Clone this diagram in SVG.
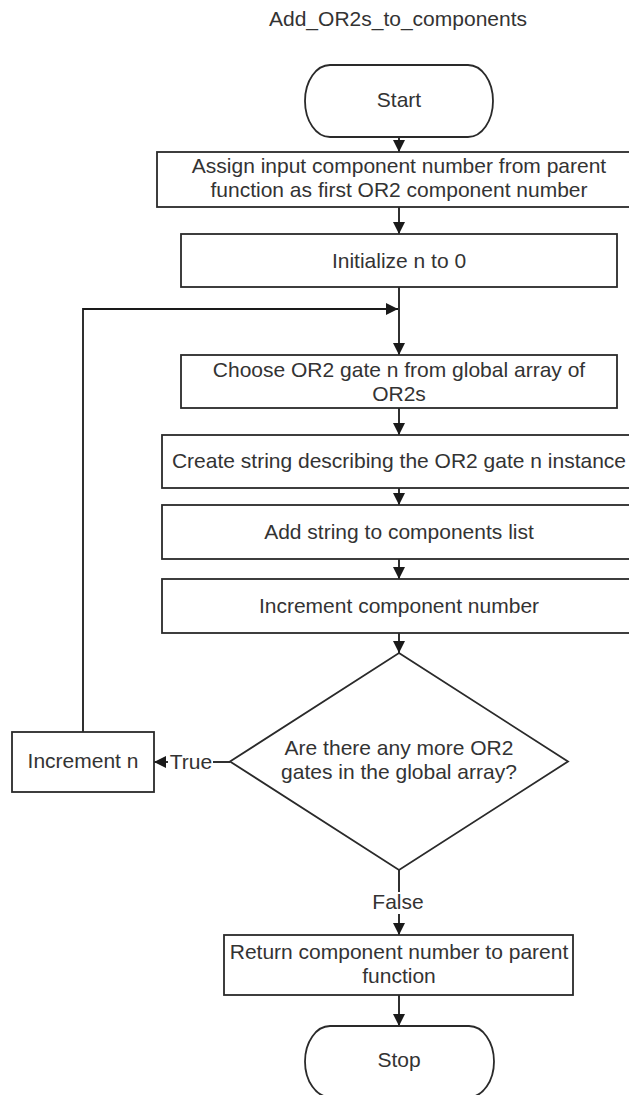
<svg xmlns="http://www.w3.org/2000/svg" width="629" height="1095" viewBox="0 0 629 1095">
<style>
  .shape { fill: #ffffff; stroke: #2a2a2a; stroke-width: 1.8; }
  .conn { fill: none; stroke: #1a1a1a; stroke-width: 1.8; }
  text { font-family: "Liberation Sans", Arial, sans-serif; font-size: 21px; fill: #333333; text-anchor: middle; }
</style>
<defs>
  <marker id="arrow" viewBox="0 0 12 12" refX="12" refY="6" markerWidth="12" markerHeight="12" markerUnits="userSpaceOnUse" orient="auto">
    <path d="M0,0 L12,6 L0,12 Z" fill="#1a1a1a"/>
  </marker>
</defs>
<rect width="629" height="1095" fill="#ffffff"/>
<text id="title" x="398" y="26">Add_OR2s_to_components</text>

<g id="connectors">
  <line class="conn" x1="399" y1="137" x2="399" y2="152" marker-end="url(#arrow)"/>
  <line class="conn" x1="399" y1="207" x2="399" y2="234" marker-end="url(#arrow)"/>
  <line class="conn" x1="399" y1="287" x2="399" y2="355" marker-end="url(#arrow)"/>
  <polyline class="conn" points="83,732 83,309 398,309" marker-end="url(#arrow)"/>
  <line class="conn" x1="399" y1="408" x2="399" y2="435" marker-end="url(#arrow)"/>
  <line class="conn" x1="399" y1="488" x2="399" y2="505" marker-end="url(#arrow)"/>
  <line class="conn" x1="399" y1="559" x2="399" y2="579" marker-end="url(#arrow)"/>
  <line class="conn" x1="399" y1="633" x2="399" y2="653" marker-end="url(#arrow)"/>
  <line class="conn" x1="399" y1="870" x2="399" y2="892"/>
  <line class="conn" x1="399" y1="914" x2="399" y2="935" marker-end="url(#arrow)"/>
  <text x="398" y="909">False</text>
  <line class="conn" x1="230" y1="762" x2="213" y2="762"/>
  <line class="conn" x1="168" y1="762" x2="154" y2="762" marker-end="url(#arrow)"/>
  <text x="191" y="769">True</text>
  <line class="conn" x1="399" y1="995" x2="399" y2="1026" marker-end="url(#arrow)"/>
</g>

<g id="start">
  <rect class="shape" x="305" y="65" width="188" height="72" rx="25" ry="36"/>
  <text x="399" y="107">Start</text>
</g>
<g id="assign">
  <rect class="shape" x="157" y="152" width="484" height="55"/>
  <text x="399" y="173">Assign input component number from parent</text>
  <text x="399" y="197">function as first OR2 component number</text>
</g>
<g id="init">
  <rect class="shape" x="181" y="234" width="436" height="53"/>
  <text x="399" y="268">Initialize n to 0</text>
</g>
<g id="choose">
  <rect class="shape" x="181" y="355" width="436" height="53"/>
  <text x="399" y="377">Choose OR2 gate n from global array of</text>
  <text x="399" y="401">OR2s</text>
</g>
<g id="create">
  <rect class="shape" x="162" y="435" width="474" height="53"/>
  <text x="399" y="468">Create string describing the OR2 gate n instance</text>
</g>
<g id="add">
  <rect class="shape" x="162" y="505" width="474" height="54"/>
  <text x="399" y="539">Add string to components list</text>
</g>
<g id="inccomp">
  <rect class="shape" x="162" y="579" width="474" height="54"/>
  <text x="399" y="613">Increment component number</text>
</g>
<g id="decision">
  <polygon class="shape" points="399,653 568,761.5 399,870 230,761.5"/>
  <text x="399" y="755">Are there any more OR2</text>
  <text x="399" y="779">gates in the global array?</text>
</g>
<g id="incn">
  <rect class="shape" x="12" y="732" width="142" height="60"/>
  <text x="83" y="768">Increment n</text>
</g>
<g id="return">
  <rect class="shape" x="224" y="935" width="349" height="60"/>
  <text x="399" y="959">Return component number to parent</text>
  <text x="399" y="983">function</text>
</g>
<g id="stop">
  <rect class="shape" x="305" y="1026" width="189" height="71" rx="25" ry="35.5"/>
  <text x="399" y="1067">Stop</text>
</g>
</svg>
